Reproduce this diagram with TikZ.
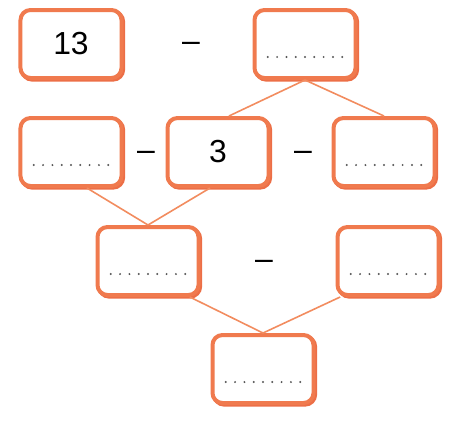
\documentclass[tikz,border=0pt]{standalone}
\usepackage{fontspec}
\setmainfont{Liberation Sans}
\definecolor{boxorange}{RGB}{240,122,78}
\definecolor{shadeorange}{RGB}{236,110,70}
\definecolor{lineorange}{RGB}{242,140,95}
\definecolor{dotgray}{RGB}{85,85,85}
\tikzset{
  numbox/.style={draw=boxorange, fill=white, line width=4bp, rounded corners=10bp,
    minimum width=101bp, minimum height=68bp, inner sep=0pt, font=\fontsize{32}{36}\selectfont,
    preaction={draw=shadeorange, line width=4bp, transform canvas={shift={(1.6bp,-1.6bp)}}}},
  minus/.style={font=\fontsize{32}{36}\selectfont, inner sep=0pt},
  link/.style={draw=lineorange, line width=1.6bp}
}
\begin{document}
\begin{tikzpicture}[x=1bp, y=-1bp]
\useasboundingbox (0,0) rectangle (449,424);

\node[numbox] (a) at (71,44) {13};
\node[numbox] (b) at (305,44) {};
\node[minus] (m1) at (191,47) {–};

\node[numbox] (c) at (71,152) {};
\node[numbox] (d) at (218,152) {3};
\node[numbox] (e) at (384,152) {};
\node[minus] (m2) at (146,156) {–};
\node[minus] (m3) at (303,156) {–};

\node[numbox] (f) at (148,261) {};
\node[numbox] (g) at (388,261) {};
\node[minus] (m4) at (264,265) {–};

\node[numbox] (h) at (263,369) {};

\draw[link] (b.south) -- ([xshift=11]d.north);
\draw[link] (b.south) -- (e.north);
\draw[link] (f.north) -- ([xshift=16]c.south);
\draw[link] (f.north) -- ([xshift=-8]d.south);
\draw[link] (h.north) -- ([xshift=42]f.south);
\draw[link] (h.north) -- ([xshift=-48]g.south);

\foreach \n in {b,c,e,f,g,h}
{
    \foreach \i in {-4,...,4}
        \fill[dotgray] ([shift={(\i*9.3,13)}]\n.center) circle (1.1bp);
}
\end{tikzpicture}
\end{document}
